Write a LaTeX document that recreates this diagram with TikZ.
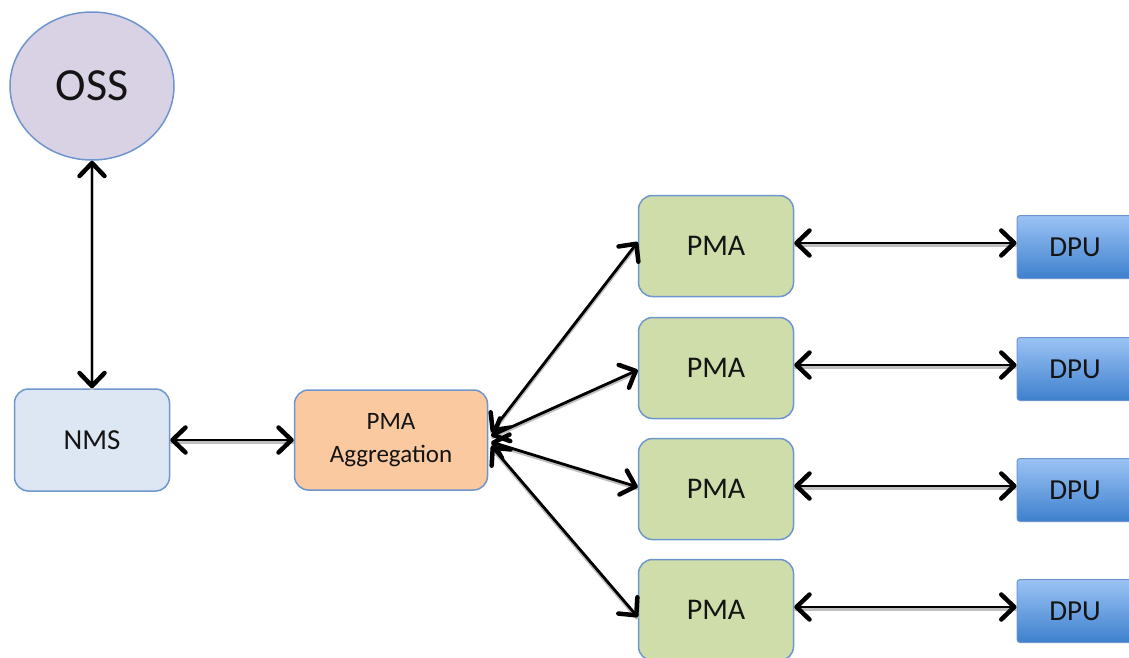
\documentclass[tikz,border=0pt]{standalone}
\usepackage{fontspec}
\setmainfont{Carlito}
\usetikzlibrary{arrows.meta,shapes.geometric,shadows}
\definecolor{bordblue}{RGB}{110,150,205}
\definecolor{ossfill}{RGB}{217,209,228}
\definecolor{nmsfill}{RGB}{221,231,243}
\definecolor{aggfill}{RGB}{250,201,160}
\definecolor{pmafill}{RGB}{206,221,170}
\definecolor{dputop}{RGB}{155,195,245}
\definecolor{dpubot}{RGB}{62,128,205}
\definecolor{txt}{RGB}{20,20,20}
\tikzset{
  box/.style={draw=bordblue, line width=1.5pt, rounded corners=14pt, inner sep=0pt, text=txt},
  pmabox/.style={box, fill=pmafill, minimum width=155pt, minimum height=101pt, font=\fontsize{30}{34}\selectfont},
  dpubox/.style={draw=bordblue, line width=1pt, rounded corners=3pt, inner sep=0pt, text=txt,
     top color=dputop, bottom color=dpubot, minimum width=124pt, minimum height=63pt, font=\fontsize{29}{34}\selectfont},
  link/.style={line width=2.8pt, black,
     {Straight Barb[length=13pt,width=25pt,line width=4.5pt,round]}-{Straight Barb[length=13pt,width=25pt,line width=4.5pt,round]},
     preaction={draw=black!25, line width=4pt, transform canvas={yshift=-1.5pt}, arrows=-}},
}
\begin{document}
\begin{tikzpicture}[x=1pt,y=-1pt]
\useasboundingbox (0,0) rectangle (1129,657);
\clip (0,0) rectangle (1129,657);
\node[ellipse, draw=bordblue, line width=1.5pt, fill=ossfill, minimum width=164pt, minimum height=148pt, inner sep=0pt, text=txt, font=\fontsize{46}{50}\selectfont] (oss) at (92,86) {OSS};
\node[box, fill=nmsfill, minimum width=155pt, minimum height=102pt, font=\fontsize{29}{34}\selectfont] (nms) at (92,440) {NMS};
\node[box, fill=aggfill, minimum width=193pt, minimum height=100pt, font=\fontsize{25}{33}\selectfont, align=center] (agg) at (391,440) {PMA\\Aggregation};
\node[pmabox] (p1) at (716,246) {PMA};
\node[pmabox] (p2) at (716,368) {PMA};
\node[pmabox] (p3) at (716,489) {PMA};
\node[pmabox] (p4) at (716,610) {PMA};
\node[dpubox] (d1) at (1079,247) {\hspace*{-8pt}DPU};
\node[dpubox] (d2) at (1079,369) {\hspace*{-8pt}DPU};
\node[dpubox] (d3) at (1079,490) {\hspace*{-8pt}DPU};
\node[dpubox] (d4) at (1079,611) {\hspace*{-8pt}DPU};
\draw[link] (oss.south) -- (nms.north);
\draw[link] (nms.east) -- (agg.west);
\draw[link] ([shift={(3pt,8pt)}]agg.east) -- ([yshift=4pt]p1.west);
\draw[link] ([shift={(3pt,4pt)}]agg.east) -- ([yshift=-2pt]p2.west);
\draw[link] ([shift={(3pt,-2pt)}]agg.east) -- ([yshift=2pt]p3.west);
\draw[link] ([shift={(3pt,-6pt)}]agg.east) -- ([yshift=-7pt]p4.west);
\foreach \i in {1,2,3,4}{
  \draw[link] ([yshift=3pt]p\i.east) -- ([yshift=3pt]p\i.east -| d\i.west);
}
\end{tikzpicture}
\end{document}
